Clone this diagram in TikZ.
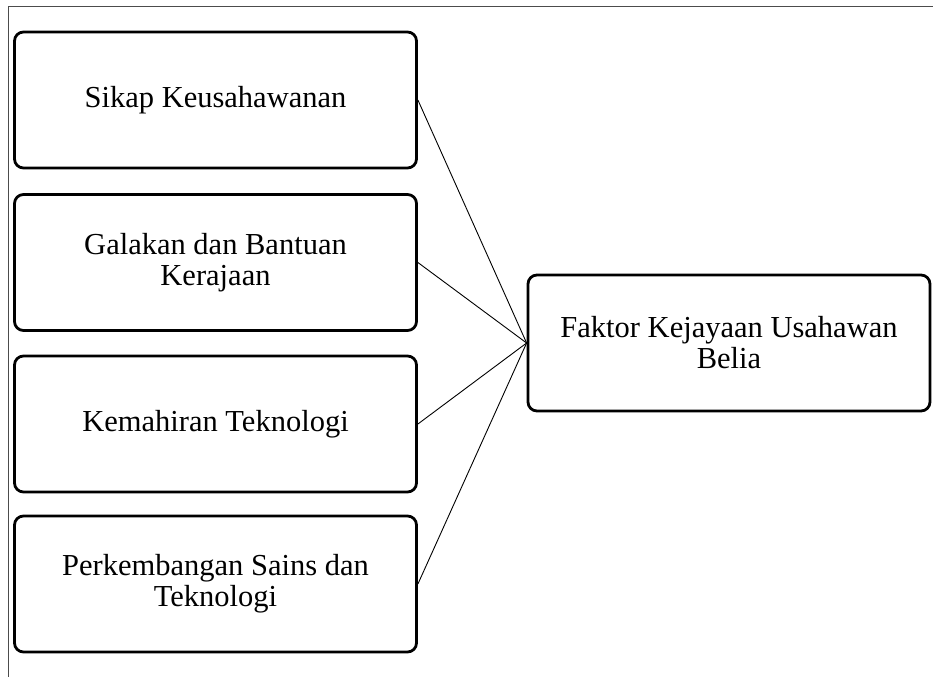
\documentclass[tikz,border=0pt]{standalone}
\usepackage{fontspec}
\setmainfont{Liberation Serif}

\begin{document}
\begin{tikzpicture}[x=1pt,y=-1pt,
    factorbox/.style={draw,line width=2.8pt,rounded corners=9pt,
      minimum width=402pt,minimum height=136pt,align=center,
      inner sep=4pt,font=\fontsize{30.5}{31}\selectfont},
    link/.style={line width=0.9pt}]
  \useasboundingbox (0,0) rectangle (933,677);
  % scan frame
  \draw[gray!60!black,line width=0.8pt] (933,6) -- (8,6) -- (8,677);
  % left column
  \node[factorbox] (sikap)  at (215.5,100) {Sikap Keusahawanan};
  \node[factorbox] (galakan) at (215.5,262.5) {Galakan dan Bantuan\\Kerajaan};
  \node[factorbox] (mahir)  at (215.5,424) {Kemahiran Teknologi};
  \node[factorbox] (sains)  at (215.5,584) {Perkembangan Sains dan\\Teknologi};
  % outcome
  \node[factorbox] (faktor) at (729,343) {Faktor Kejayaan Usahawan\\Belia};
  \foreach \n in {sikap,galakan,mahir,sains}
    \draw[link] (\n.east) -- (faktor.west);
\end{tikzpicture}
\end{document}
